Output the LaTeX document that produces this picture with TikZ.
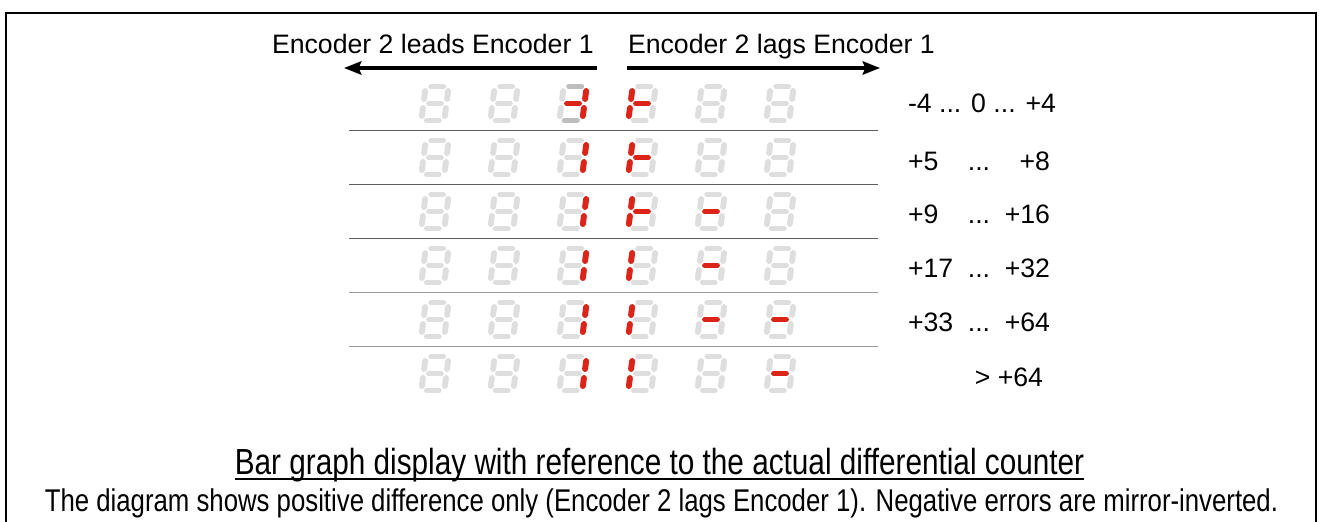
\documentclass[tikz,border=0pt]{standalone}
\usepackage{fontspec}
\setmainfont{Liberation Sans}
\newfontfamily\condfont[FakeStretch=0.82]{Liberation Sans}
\usepackage{graphicx}
\usetikzlibrary{arrows.meta}
\definecolor{segoffc}{HTML}{DEDEDE}
\definecolor{seglitc}{HTML}{DC2418}
\definecolor{segdimc}{HTML}{BEBEBE}
\definecolor{rulec}{HTML}{5E5E5E}
\definecolor{rulelightc}{HTML}{9A9A9A}
\tikzset{
  offseg/.style={draw=segoffc,line width=4.4pt,line cap=round},
  litseg/.style={draw=seglitc,line width=4.4pt,line cap=round},
  dimseg/.style={draw=segdimc,line width=4.4pt,line cap=round},
  lab/.style={inner sep=0pt,outer sep=0pt,font=\fontsize{20}{24}\selectfont},
  rowrule/.style={draw=rulec,line width=1.1pt},
  rowrulelight/.style={draw=rulelightc,line width=1.3pt},
  encarrow/.style={line width=2.3pt,-{Stealth[length=13pt,width=10pt,inset=2pt]}},
  outerframe/.style={line width=1.9pt}
}
\newcommand\SegA[1]{\path[#1] (-6,17)--(6,17);}
\newcommand\SegB[1]{\path[#1] (11.5,12.5)--(11.5,4.5);}
\newcommand\SegC[1]{\path[#1] (11.5,-4.5)--(11.5,-12.5);}
\newcommand\SegD[1]{\path[#1] (-6,-17)--(6,-17);}
\newcommand\SegE[1]{\path[#1] (-11.5,-4.5)--(-11.5,-12.5);}
\newcommand\SegF[1]{\path[#1] (-11.5,12.5)--(-11.5,4.5);}
\newcommand\SegG[1]{\path[#1] (-6,0)--(6,0);}
\newcommand\SevDigit[3]{%
  \begin{scope}[shift={(#1,#2)},x=0.75pt,y=0.75pt,xslant=0.13]
    \SegA{offseg}\SegB{offseg}\SegC{offseg}\SegD{offseg}%
    \SegE{offseg}\SegF{offseg}\SegG{offseg}%
    #3
  \end{scope}}
\newcommand\DigitRow[7]{%
  \SevDigit{435}{#1}{#2}\SevDigit{504}{#1}{#3}\SevDigit{573}{#1}{#4}%
  \SevDigit{642}{#1}{#5}\SevDigit{711}{#1}{#6}\SevDigit{780}{#1}{#7}}
\begin{document}
\begin{tikzpicture}[x=0.75pt,y=-0.75pt]
\useasboundingbox (0,0) rectangle (1319,521);
% frame
\draw[outerframe] (6,522) -- (6,13) -- (1316,13) -- (1316,522);
% headings and arrows
\node[lab,anchor=base west] (leads) at (272,53) {Encoder 2 leads Encoder 1};
\node[lab,anchor=base west] (lags) at (628,53) {Encoder 2 lags Encoder 1};
\coordinate (la0) at (597,68);
\coordinate (la1) at (344,68);
\coordinate (ra0) at (627,68);
\coordinate (ra1) at (880,68);
\draw[encarrow] (la0) -- (la1);
\draw[encarrow] (ra0) -- (ra1);
% row rules
\foreach \i in {0,1,2}
  \draw[rowrule] (349,{130.5+54*\i}) -- (878,{130.5+54*\i});
\foreach \i in {3,4}
  \draw[rowrulelight] (349,{130.5+54*\i}) -- (878,{130.5+54*\i});
% digits
\DigitRow{103.5}{}{}{\SegA{dimseg}\SegD{dimseg}\SegB{litseg}\SegC{litseg}\SegG{litseg}}{\SegF{litseg}\SegE{litseg}\SegG{litseg}}{}{}
\DigitRow{157.5}{}{}{\SegB{litseg}\SegC{litseg}}{\SegF{litseg}\SegE{litseg}\SegG{litseg}}{}{}
\DigitRow{211.5}{}{}{\SegB{litseg}\SegC{litseg}}{\SegF{litseg}\SegE{litseg}\SegG{litseg}}{\SegG{litseg}}{}
\DigitRow{265.5}{}{}{\SegB{litseg}\SegC{litseg}}{\SegF{litseg}\SegE{litseg}}{\SegG{litseg}}{}
\DigitRow{319.5}{}{}{\SegB{litseg}\SegC{litseg}}{\SegF{litseg}\SegE{litseg}}{\SegG{litseg}}{\SegG{litseg}}
\DigitRow{373.5}{}{}{\SegB{litseg}\SegC{litseg}}{\SegF{litseg}\SegE{litseg}}{}{\SegG{litseg}}
% ranges
\node[lab,anchor=base west] (r1) at (908,112) {-4 ... 0 ... +4};
\node[lab,anchor=base west] (r2a) at (908,170) {+5};
\node[lab,anchor=base] (r2b) at (979,170) {...};
\node[lab,anchor=base east] (r2c) at (1050,170) {+8};
\node[lab,anchor=base west] (r3a) at (908,223) {+9};
\node[lab,anchor=base] (r3b) at (979,223) {...};
\node[lab,anchor=base east] (r3c) at (1050,223) {+16};
\node[lab,anchor=base west] (r4a) at (908,277) {+17};
\node[lab,anchor=base] (r4b) at (979,277) {...};
\node[lab,anchor=base east] (r4c) at (1050,277) {+32};
\node[lab,anchor=base west] (r5a) at (908,331) {+33};
\node[lab,anchor=base] (r5b) at (979,331) {...};
\node[lab,anchor=base east] (r5c) at (1050,331) {+64};
\node[lab,anchor=base east] (r6) at (1043,386) {> +64};
% captions
\node[inner sep=0pt,anchor=base] (title) at (659.5,474)
  {\resizebox{637pt}{!}{\condfont\fontsize{24}{28}\selectfont Bar graph display with reference to the actual differential counter}};
\draw[line width=1.5pt] ([yshift=-4pt]title.base west) -- ([yshift=-4pt]title.base east);
\node[inner sep=0pt,anchor=base] (note) at (661.5,511)
  {\resizebox{925pt}{!}{\condfont\fontsize{24}{28}\selectfont The diagram shows positive difference only (Encoder 2 lags Encoder 1). Negative errors are mirror-inverted.}};
\end{tikzpicture}
\end{document}
